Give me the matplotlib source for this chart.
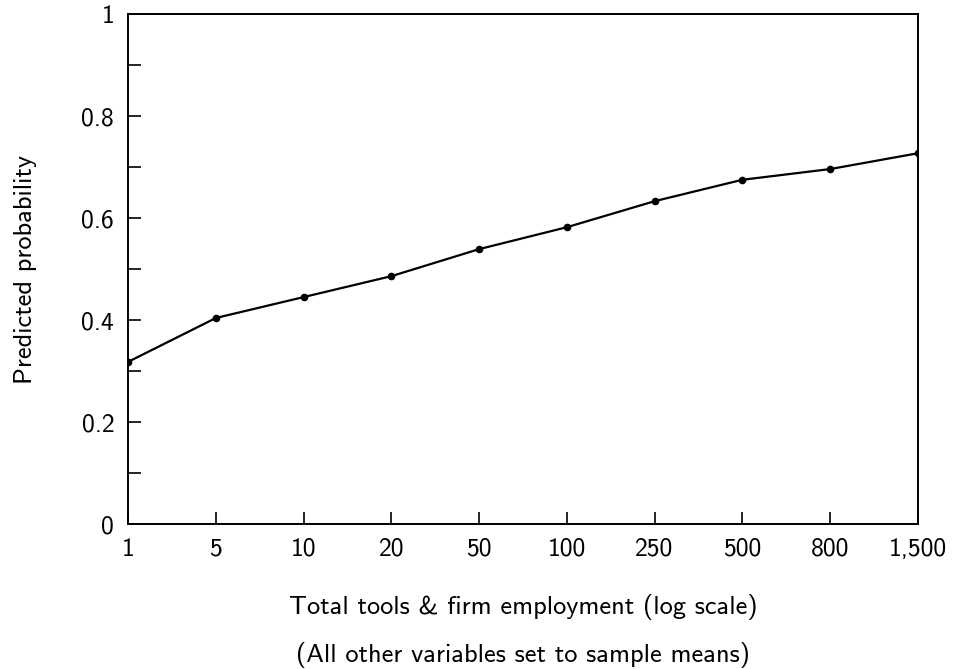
import numpy as np
import matplotlib.pyplot as plt
from matplotlib.ticker import MultipleLocator

plt.rcParams['font.family'] = ['cmss10', 'DejaVu Sans']
plt.rcParams['axes.unicode_minus'] = False

# Datos
categorias = ["1", "5", "10", "20", "50", "100", "250", "500", "800", "1,500"]
probabilidad = [0.318, 0.404, 0.445, 0.486, 0.539, 0.582, 0.633, 0.675, 0.696, 0.727]

fig = plt.figure(figsize=(9.56, 6.69), dpi=100)
ax = fig.add_axes([0.134, 0.2167, 0.826, 0.7623])

x = np.arange(len(categorias))
ax.plot(x, probabilidad, color='black', linewidth=1.6, marker='o', markersize=4.5)

ax.set_xlim(0, len(categorias) - 1)
ax.set_ylim(0, 1)
ax.set_xticks(x)
ax.set_xticklabels(categorias)
ax.set_yticks([0, 0.2, 0.4, 0.6, 0.8, 1])
ax.set_yticklabels(["0", "0.2", "0.4", "0.6", "0.8", "1"])
ax.yaxis.set_minor_locator(MultipleLocator(0.1))

ax.tick_params(axis='both', which='both', direction='in', length=9, width=1.2,
               labelsize=18.5, top=False, right=False)
ax.tick_params(axis='y', pad=10)
ax.tick_params(axis='x', pad=10)
for s in ax.spines.values():
    s.set_linewidth(1.4)

ax.set_ylabel("Predicted probability", fontsize=19, labelpad=32)
ax.set_xlabel("Total tools & firm employment (log scale)\n(All other variables set to sample means)",
              fontsize=19, labelpad=24, linespacing=2.1)

fig.savefig("out.png", dpi=100)
